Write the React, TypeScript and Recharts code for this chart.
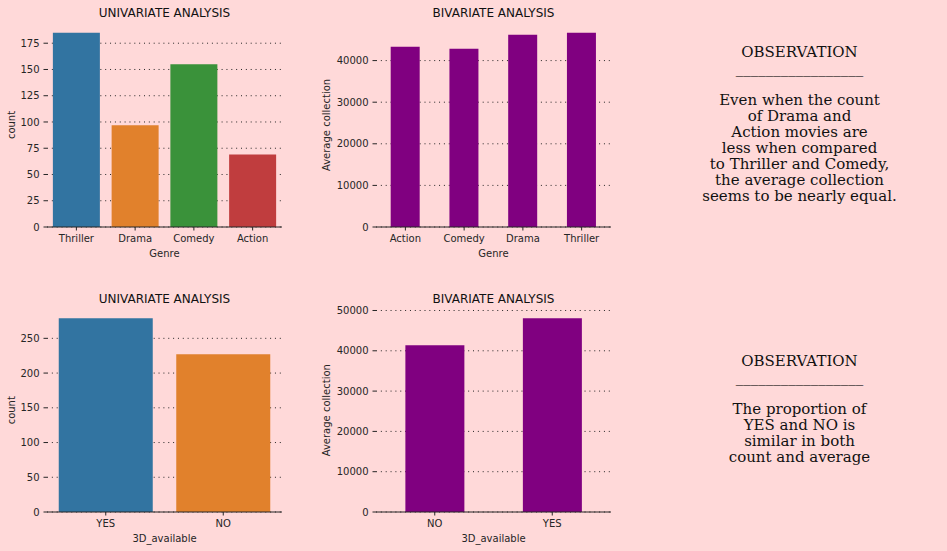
import React from 'react';
import { BarChart, Bar, XAxis, YAxis, CartesianGrid, Cell } from 'recharts';

// top row: genre
const genreNames = ['Thriller', 'Drama', 'Comedy', 'Action'];
const genreCounts = [185, 97, 155, 69];
const genreAvgNames = ['Action', 'Comedy', 'Drama', 'Thriller'];
const genreAvgCollection = [43350, 42870, 46230, 46700];

// bottom row: 3D_available
const threeDNames = ['YES', 'NO'];
const threeDCounts = [279, 227];
const threeDAvgNames = ['NO', 'YES'];
const threeDAvgCollection = [41400, 48090];

const genreCountTicks = [0, 25, 50, 75, 100, 125, 150, 175];
const genreAvgTicks = [0, 10000, 20000, 30000, 40000];
const threeDCountTicks = [0, 50, 100, 150, 200, 250];
const threeDAvgTicks = [0, 10000, 20000, 30000, 40000, 50000];

const seabornColors = ['#3274a1', '#e1812c', '#3a923a', '#c03d3e'];
const BG = '#ffd9d9';
const INK = '#262626';

const obsText1 =
  'OBSERVATION\n_________________\n\nEven when the count\nof Drama and\nAction movies are\nless when compared\nto Thriller and Comedy,\nthe average collection\nseems to be nearly equal.';
const obsText2 =
  'OBSERVATION\n_________________\n\nThe proportion of\nYES and NO is\nsimilar in both\ncount and average';

const tickStyle = { fontSize: 10, fill: INK, fontFamily: 'DejaVu Sans' };

interface PanelProps {
  left: number;
  top: number;
  width: number;
  height: number;
  plotTop: number;
  plotBottom: number;
  yAxisWidth: number;
  names: string[];
  values: number[];
  ticks: number[];
  colors?: string[];
  gap: string;
  xLabel: string;
  yLabel: string;
  yLabelOffset: number;
  title: string;
  titleTop: number;
}

const Panel: React.FC<PanelProps> = (p) => {
  const data = p.names.map((name, i) => ({ name, value: p.values[i] }));
  const ymax = Math.max(...p.values) * 1.05;
  const xAxisHeight = 34;
  const plotLeft = p.yAxisWidth;
  const plotRight = p.width - 18;
  return (
    <div style={{ position: 'absolute', left: p.left, top: p.top, width: p.width, height: p.height }}>
      <div
        style={{
          position: 'absolute',
          left: plotLeft,
          width: plotRight - plotLeft,
          top: p.titleTop,
          textAlign: 'center',
          fontFamily: 'DejaVu Sans',
          fontSize: 12,
          lineHeight: '12px',
          color: '#111',
        }}
      >
        {p.title}
      </div>
      <BarChart
        width={p.width}
        height={p.height}
        data={data}
        margin={{ top: p.plotTop, right: 18, left: 0, bottom: p.height - p.plotBottom - xAxisHeight }}
        barCategoryGap={p.gap}
      >
        <CartesianGrid vertical={false} syncWithTicks stroke={INK} strokeDasharray="1 3.85" />
        <XAxis
          dataKey="name"
          height={xAxisHeight}
          tick={tickStyle}
          tickSize={3.5}
          tickMargin={4.4}
          stroke={INK}
          label={{ value: p.xLabel, position: 'insideBottom', offset: 4.5, style: { fontSize: 10, fill: INK, fontFamily: 'DejaVu Sans' } }}
        />
        <YAxis
          width={p.yAxisWidth}
          domain={[0, ymax]}
          ticks={p.ticks}
          axisLine={false}
          tick={tickStyle}
          tickSize={3.5}
          tickMargin={4}
          stroke={INK}
          label={{
            value: p.yLabel,
            angle: -90,
            position: 'insideLeft',
            offset: p.yLabelOffset,
            style: { textAnchor: 'middle', fontSize: 10, fill: INK, fontFamily: 'DejaVu Sans' },
          }}
        />
        <Bar dataKey="value" isAnimationActive={false} fill="purple">
          {data.map((d, i) => (
            <Cell key={d.name} fill={p.colors ? p.colors[i] : 'purple'} />
          ))}
        </Bar>
      </BarChart>
    </div>
  );
};

const Observation: React.FC<{ text: string; top: number }> = ({ text, top }) => (
  <div
    style={{
      position: 'absolute',
      left: 680,
      width: 239,
      top,
      textAlign: 'center',
      whiteSpace: 'pre',
      fontFamily: 'DejaVu Serif',
      fontSize: 15,
      lineHeight: '16.1px',
      color: '#111',
    }}
  >
    {text}
  </div>
);

export default function App() {
  return (
    <div style={{ position: 'absolute', left: 0, top: 0, width: 947, height: 551, background: BG, overflow: 'hidden' }}>
      <Panel
        left={0}
        top={0}
        width={300}
        height={270}
        plotTop={23}
        plotBottom={227}
        yAxisWidth={47}
        names={genreNames}
        values={genreCounts}
        ticks={genreCountTicks}
        colors={seabornColors}
        gap="10%"
        xLabel="Genre"
        yLabel="count"
        yLabelOffset={11.75}
        title="UNIVARIATE ANALYSIS"
        titleTop={6.5}
      />
      <Panel
        left={310}
        top={0}
        width={319}
        height={270}
        plotTop={23}
        plotBottom={227}
        yAxisWidth={66}
        names={genreAvgNames}
        values={genreAvgCollection}
        ticks={genreAvgTicks}
        gap="25%"
        xLabel="Genre"
        yLabel="Average collection"
        yLabelOffset={16.5}
        title="BIVARIATE ANALYSIS"
        titleTop={6.5}
      />
      <Panel
        left={0}
        top={280}
        width={300}
        height={271}
        plotTop={28.5}
        plotBottom={232}
        yAxisWidth={47}
        names={threeDNames}
        values={threeDCounts}
        ticks={threeDCountTicks}
        colors={seabornColors}
        gap="10%"
        xLabel="3D_available"
        yLabel="count"
        yLabelOffset={11.75}
        title="UNIVARIATE ANALYSIS"
        titleTop={13.1}
      />
      <Panel
        left={310}
        top={280}
        width={319}
        height={271}
        plotTop={28.5}
        plotBottom={232}
        yAxisWidth={66}
        names={threeDAvgNames}
        values={threeDAvgCollection}
        ticks={threeDAvgTicks}
        gap="25%"
        xLabel="3D_available"
        yLabel="Average collection"
        yLabelOffset={16.5}
        title="BIVARIATE ANALYSIS"
        titleTop={13.1}
      />
      <Observation text={obsText1} top={43.5} />
      <Observation text={obsText2} top={352.8} />
    </div>
  );
}
